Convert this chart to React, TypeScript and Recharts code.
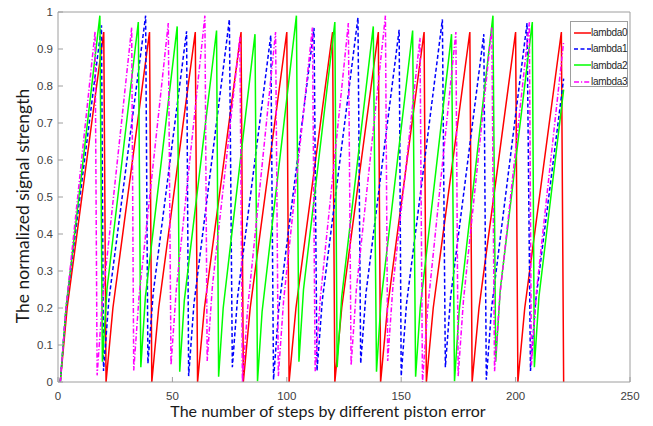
import { LineChart, Line, XAxis, YAxis } from 'recharts'

// sawtooth traces, [step, normalized strength]
const lambda0: [number, number][] = [
  [1, 0], [4, 0.2], [20, 0.946], [21, 0], [24, 0.2], [40, 0.946], [41, 0], [44, 0.2],
  [60, 0.946], [61, 0], [64, 0.2], [80, 0.946], [81, 0], [84, 0.2], [100, 0.946], [101, 0],
  [104, 0.2], [120, 0.946], [121, 0], [124, 0.2], [140, 0.946], [141, 0], [144, 0.2],
  [160, 0.946], [161, 0], [164, 0.2], [180, 0.946], [181, 0], [184, 0.2], [200, 0.946],
  [201, 0], [204, 0.2], [220, 0.946], [221, 0],
]

const lambda1: [number, number][] = [
  [1, 0], [3.5, 0.2], [19, 0.964], [19.9, 0.03], [22.2, 0.22], [38.3, 0.99], [39.3, 0.05],
  [41.6, 0.24], [56.2, 0.948], [57.1, 0.016], [59.4, 0.21], [74.9, 0.98], [76.2, 0.04],
  [78.5, 0.23], [93, 0.937], [94.2, 0.006], [96.5, 0.2], [111.9, 0.957], [113.2, 0.03],
  [115.5, 0.22], [131.1, 0.985], [132.3, 0.05], [134.6, 0.24], [149.1, 0.952], [150, 0.016],
  [152.3, 0.21], [168, 0.98], [169.3, 0.04], [171.6, 0.23], [186.1, 0.94], [187.2, 0.006],
  [189.5, 0.2], [205, 0.97], [206.5, 0.03], [208.8, 0.22], [221, 0.82],
]

const lambda2: [number, number][] = [
  [1, 0], [3.5, 0.2], [18.3, 0.99], [19.4, 0.055], [21.4, 0.25], [35.1, 0.973], [36.2, 0.04],
  [38.2, 0.23], [52.1, 0.961], [53.2, 0.028], [55.2, 0.22], [69.3, 0.95], [70.2, 0.014],
  [72.2, 0.2], [86.1, 0.94], [87.2, 0.002], [89.2, 0.19], [104.2, 0.99], [105.3, 0.055],
  [107.3, 0.25], [121, 0.973], [122, 0.04], [124, 0.23], [137.8, 0.961], [139.2, 0.028],
  [141.2, 0.22], [155, 0.95], [156.3, 0.014], [158.3, 0.2], [172, 0.94], [173.3, 0.002],
  [175.3, 0.19], [190.1, 0.99], [191.3, 0.055], [193.3, 0.25], [207.3, 0.973], [208.2, 0.04],
  [210.2, 0.23], [221, 0.79],
]

const lambda3: [number, number][] = [
  [1, 0], [3.5, 0.2], [16.2, 0.947], [17.1, 0.018], [19.4, 0.22], [32.2, 0.958], [33.1, 0.031],
  [35.4, 0.23], [48.2, 0.97], [49.4, 0.046], [51.7, 0.25], [64.2, 0.99], [65.2, 0.057],
  [67.5, 0.26], [79.5, 0.932], [80.6, 0], [82.9, 0.2], [95.1, 0.946], [96.3, 0.016],
  [98.6, 0.22], [111.2, 0.958], [112.4, 0.029], [114.7, 0.23], [126.9, 0.97], [128.1, 0.045],
  [130.4, 0.25], [143.1, 0.99], [144.1, 0.057], [146.4, 0.26], [158.2, 0.93], [159.3, 0],
  [161.6, 0.2], [173.9, 0.946], [174.9, 0.016], [177.2, 0.22], [189.6, 0.958], [190.8, 0.029],
  [193.1, 0.23], [206, 0.972], [206.9, 0.045], [209.2, 0.25], [221, 0.92],
]

const xTicks = [0, 50, 100, 150, 200, 250]
const yTicks = [0, 0.1, 0.2, 0.3, 0.4, 0.5, 0.6, 0.7, 0.8, 0.9, 1]
const seriesNames = ['lambda0', 'lambda1', 'lambda2', 'lambda3']

const SERIES = [
  { name: seriesNames[0], points: lambda0, color: '#ff0000', dash: undefined },
  { name: seriesNames[1], points: lambda1, color: '#0000ff', dash: '4 2.5' },
  { name: seriesNames[2], points: lambda2, color: '#00ff00', dash: undefined },
  { name: seriesNames[3], points: lambda3, color: '#ff00ff', dash: '5 2 1.2 2' },
]

const AXIS = '#9e9e9e'
const TICK_FONT = { fontSize: 11.5, fill: '#404040', fontFamily: '"Liberation Sans", Arial, sans-serif' }
const LABEL_FONT = 'Lato, "Open Sans", sans-serif'

const noTick = () => <g />

function XLabel() {
  return (
    <text x={328} y={417} textAnchor="middle" fontSize={16} fill="#1a1a1a" fontFamily={LABEL_FONT}>
      The number of steps by different piston error
    </text>
  )
}

function YLabel() {
  return (
    <text
      x={22}
      y={206}
      transform="rotate(-90 22 206)"
      textAnchor="middle"
      dominantBaseline="central"
      fontSize={17.5}
      fill="#1a1a1a"
      fontFamily={LABEL_FONT}
    >
      The normalized signal strength
    </text>
  )
}

function LegendBox() {
  return (
    <div
      style={{
        position: 'absolute',
        left: 570,
        top: 21,
        width: 58,
        height: 66,
        border: `1px solid ${AXIS}`,
        background: '#fff',
        boxSizing: 'border-box',
        fontFamily: '"Liberation Sans Narrow", "Liberation Sans", Arial, sans-serif',
        fontSize: 10,
        letterSpacing: -0.3,
        color: '#262626',
      }}
    >
      {SERIES.map((s, i) => (
        <div
          key={s.name}
          style={{ position: 'absolute', left: 3, top: 3 + i * 16.4, height: 15, display: 'flex', alignItems: 'center' }}
        >
          <svg width={17} height={6} style={{ display: 'block' }}>
            <line x1={0} y1={3} x2={17} y2={3} stroke={s.color} strokeWidth={1.5} strokeDasharray={s.dash} />
          </svg>
          <span style={{ lineHeight: '15px' }}>{s.name}</span>
        </div>
      ))}
    </div>
  )
}

export default function App() {
  return (
    <div style={{ position: 'absolute', left: 0, top: 0, width: 653, height: 426, background: '#fff' }}>
      <LineChart width={653} height={426} margin={{ top: 0, right: 0, bottom: 0, left: 0 }}>
        <XAxis
          dataKey="x"
          type="number"
          domain={[0, 250]}
          ticks={xTicks}
          allowDataOverflow
          height={44}
          stroke={AXIS}
          tickSize={-5}
          tickMargin={15}
          tick={TICK_FONT}
          label={XLabel}
        />
        <XAxis
          xAxisId="top"
          orientation="top"
          dataKey="x"
          type="number"
          domain={[0, 250]}
          ticks={xTicks}
          height={12}
          stroke={AXIS}
          tickSize={-5}
          tick={noTick}
        />
        <YAxis
          type="number"
          domain={[0, 1]}
          ticks={yTicks}
          allowDataOverflow
          width={58}
          stroke={AXIS}
          tickSize={-5}
          tickMargin={10}
          tick={TICK_FONT}
          label={YLabel}
        />
        <YAxis
          yAxisId="right"
          orientation="right"
          type="number"
          domain={[0, 1]}
          ticks={yTicks}
          width={23}
          stroke={AXIS}
          tickSize={-5}
          tick={noTick}
        />
        {SERIES.map((s) => (
          <Line
            key={s.name}
            name={s.name}
            data={s.points.map(([x, y]) => ({ x, y }))}
            dataKey="y"
            type="linear"
            stroke={s.color}
            strokeWidth={1.5}
            strokeDasharray={s.dash}
            dot={false}
            activeDot={false}
            isAnimationActive={false}
          />
        ))}
      </LineChart>
      <LegendBox />
    </div>
  )
}
